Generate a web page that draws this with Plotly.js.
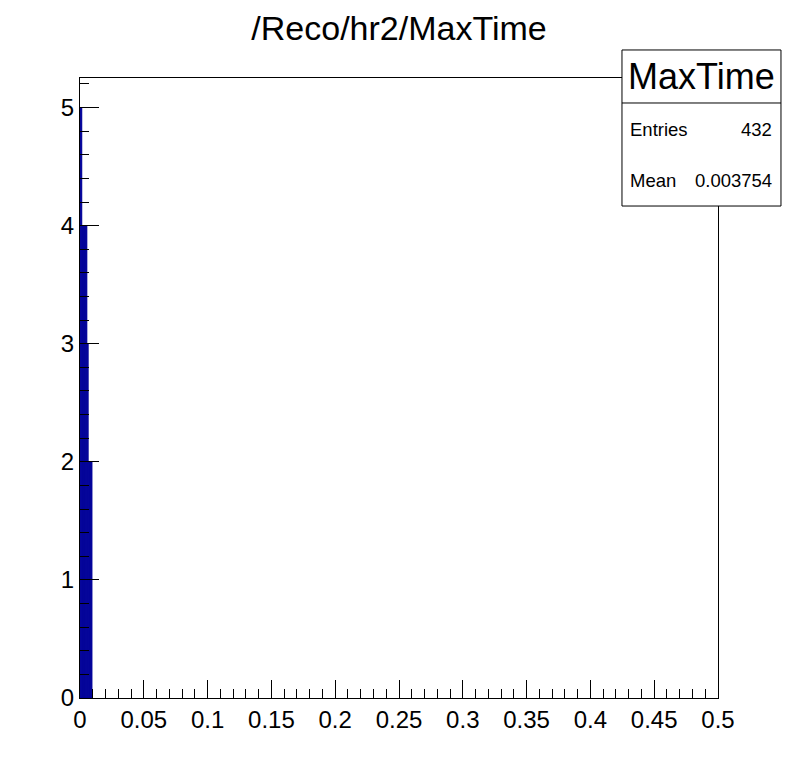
<!DOCTYPE html>
<html>
<head>
<meta charset="utf-8">
<script src="https://cdn.plot.ly/plotly-3.0.1.min.js"></script>
<style>body{margin:0;background:#fff;} #plot{width:798px;height:776px;}</style>
</head>
<body>
<div id="plot"></div>
<script>
// Histogram bins (width 0.0005)
var binWidth = 0.0005;
var binLowEdges = [0.0000,0.0005,0.0010,0.0015,0.0020,0.0025,0.0030,0.0035,0.0040,0.0045,0.0050,0.0055,0.0060,0.0065,0.0070,0.0075,0.0080,0.0085,0.0090];
var binCounts   = [5,5,5,4,4,4,4,4,4,4,4,3,3,2,2,2,2,2,2];
var xTickVals = [0,0.05,0.1,0.15,0.2,0.25,0.3,0.35,0.4,0.45,0.5];
var xTickText = ['0','0.05','0.1','0.15','0.2','0.25','0.3','0.35','0.4','0.45','0.5'];
var yTickVals = [0,1,2,3,4,5];
var statsName = 'MaxTime';
var statsEntries = '432';
var statsMean = '0.003754';
var titleText = '/Reco/hr2/MaxTime';

var centers = binLowEdges.map(function(e){return e + binWidth/2;});
var col = '#000099';
var font = 'Liberation Sans, Arial, Helvetica, sans-serif';

var trace = {
  type: 'bar', x: centers, y: binCounts, width: binWidth,
  marker: {color: col, line: {color: col, width: 0.6}},
  hoverinfo: 'skip'
};

var layout = {
  width: 798, height: 776,
  margin: {l: 80, r: 80, t: 78, b: 78, pad: 0},
  paper_bgcolor: '#fff', plot_bgcolor: '#fff',
  showlegend: false, bargap: 0,
  title: {text: titleText, x: 0.5, xanchor: 'center', y: 0.964, yanchor: 'middle',
          font: {family: font, size: 34, color: '#000'}},
  xaxis: {
    range: [0, 0.5], showgrid: false, zeroline: false,
    showline: true, linecolor: '#000', linewidth: 1, mirror: true,
    ticks: 'inside', ticklen: 18, tickwidth: 1, tickcolor: '#000',
    tickvals: xTickVals, ticktext: xTickText,
    tickfont: {family: font, size: 24, color: '#000'},
    minor: {dtick: 0.01, tick0: 0, ticks: 'inside', ticklen: 9, tickwidth: 1, tickcolor: '#000', showgrid: false}
  },
  yaxis: {
    range: [0, 5.25], showgrid: false, zeroline: false,
    showline: true, linecolor: '#000', linewidth: 1, mirror: true,
    ticks: 'inside', ticklen: 19, tickwidth: 1, tickcolor: '#000',
    tickvals: yTickVals, ticktext: yTickVals.map(String),
    tickfont: {family: font, size: 24, color: '#000'},
    minor: {dtick: 0.2, tick0: 0, ticks: 'inside', ticklen: 9, tickwidth: 1, tickcolor: '#000', showgrid: false}
  },
  shapes: [
    {type: 'rect', xref: 'paper', yref: 'paper', x0: 0.8495, x1: 1.0987, y0: 0.7935, y1: 1.0452,
     line: {color: '#000', width: 1}, fillcolor: '#fff', layer: 'above'},
    {type: 'line', xref: 'paper', yref: 'paper', x0: 0.8495, x1: 1.0987, y0: 0.9597, y1: 0.9597,
     line: {color: '#000', width: 1}, layer: 'above'}
  ],
  annotations: [
    {xref: 'paper', yref: 'paper', x: 0.9741, y: 1.0024, text: statsName, showarrow: false,
     xanchor: 'center', yanchor: 'middle', font: {family: font, size: 36, color: '#000'}},
    {xref: 'paper', yref: 'paper', x: 0.859, y: 0.9177, text: 'Entries', showarrow: false,
     xanchor: 'left', yanchor: 'middle', font: {family: font, size: 18.5, color: '#000'}},
    {xref: 'paper', yref: 'paper', x: 1.0878, y: 0.9177, text: statsEntries, showarrow: false,
     xanchor: 'right', yanchor: 'middle', font: {family: font, size: 18.5, color: '#000'}},
    {xref: 'paper', yref: 'paper', x: 0.859, y: 0.8339, text: 'Mean', showarrow: false,
     xanchor: 'left', yanchor: 'middle', font: {family: font, size: 18.5, color: '#000'}},
    {xref: 'paper', yref: 'paper', x: 1.0878, y: 0.8339, text: statsMean, showarrow: false,
     xanchor: 'right', yanchor: 'middle', font: {family: font, size: 18.5, color: '#000'}}
  ]
};

Plotly.newPlot('plot', [trace], layout, {displayModeBar: false, staticPlot: true});
</script>
</body>
</html>
